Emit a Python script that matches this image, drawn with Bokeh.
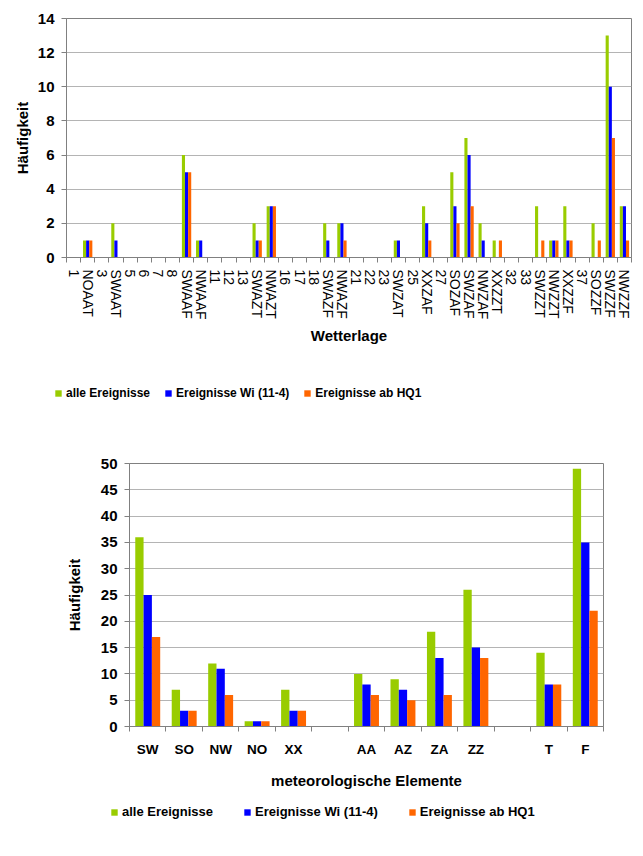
import math
from bokeh.plotting import figure
from bokeh.models import Range1d, FixedTicker, Legend, LegendItem, ColumnDataSource
from bokeh.embed import file_html
from bokeh.resources import INLINE

# ---- data: top chart (Wetterlage) ----
wl_labels = ["1", "NOAAT", "3", "SWAAT", "5", "6", "7", "8", "SWAAF", "NWAAF",
             "11", "12", "13", "SWAZT", "NWAZT", "16", "17", "18", "SWAZF", "NWAZF",
             "21", "22", "23", "SWZAT", "25", "XXZAF", "27", "SOZAF", "SWZAF", "NWZAF",
             "XXZZT", "32", "33", "SWZZT", "NWZZT", "XXZZF", "37", "SOZZF", "SWZZF", "NWZZF"]
wl_alle = [0, 1, 0, 2, 0, 0, 0, 0, 6, 1,
           0, 0, 0, 2, 3, 0, 0, 0, 2, 2,
           0, 0, 0, 1, 0, 3, 0, 5, 7, 2,
           1, 0, 0, 3, 1, 3, 0, 2, 13, 3]
wl_wi = [0, 1, 0, 1, 0, 0, 0, 0, 5, 1,
         0, 0, 0, 1, 3, 0, 0, 0, 1, 2,
         0, 0, 0, 1, 0, 2, 0, 3, 6, 1,
         0, 0, 0, 0, 1, 1, 0, 0, 10, 3]
wl_hq1 = [0, 1, 0, 0, 0, 0, 0, 0, 5, 0,
          0, 0, 0, 1, 3, 0, 0, 0, 0, 1,
          0, 0, 0, 0, 0, 1, 0, 2, 3, 0,
          1, 0, 0, 1, 1, 1, 0, 1, 7, 1]
wl_yticks = [0, 2, 4, 6, 8, 10, 12, 14]

# ---- data: bottom chart (meteorologische Elemente) ----
me_labels = ["SW", "SO", "NW", "NO", "XX", "", "AA", "AZ", "ZA", "ZZ", "", "T", "F"]
me_alle = [36, 7, 12, 1, 7, 0, 10, 9, 18, 26, 0, 14, 49]
me_wi = [25, 3, 11, 1, 3, 0, 8, 7, 13, 15, 0, 8, 35]
me_hq1 = [17, 3, 6, 1, 3, 0, 6, 5, 6, 13, 0, 8, 22]
me_yticks = [0, 5, 10, 15, 20, 25, 30, 35, 40, 45, 50]

series_names = ["alle Ereignisse", "Ereignisse Wi (11-4)", "Ereignisse ab HQ1"]
colors = ["#99CC00", "#0000FF", "#FF6600"]

FONT = "Liberation Sans"
AX = "#808080"


def build(labels, series, yticks, ymax, bw, size, mb, xlabel, xlab_size, xlab_style,
          xlab_orient, xlab_standoff, xtitle_standoff, ytick_size, ytitle_standoff):
    n = len(labels)
    p = figure(width=size[0], height=size[1],
               x_range=Range1d(-0.5, n - 0.5), y_range=Range1d(0, ymax),
               output_backend="svg", toolbar_location=None,
               min_border_left=mb[0], min_border_right=mb[1],
               min_border_top=mb[2], min_border_bottom=mb[3])
    idx = list(range(n))
    for k, (vals, col) in enumerate(zip(series, colors)):
        src = ColumnDataSource(dict(x=[i + (k - 1) * bw for i in idx], top=vals))
        p.vbar(x="x", top="top", width=bw, source=src, fill_color=col, line_color=None)

    p.xaxis.ticker = FixedTicker(ticks=idx, minor_ticks=[i - 0.5 for i in range(n + 1)])
    p.xaxis.major_label_overrides = {i: lab for i, lab in enumerate(labels)}
    p.xaxis.major_tick_out = 0
    p.xaxis.major_tick_in = 0
    p.xaxis.minor_tick_out = 5
    p.xaxis.minor_tick_in = 0
    p.xaxis.minor_tick_line_color = AX
    p.xaxis.axis_line_color = AX
    p.xaxis.major_label_orientation = xlab_orient
    p.xaxis.major_label_standoff = xlab_standoff
    p.xaxis.major_label_text_font = FONT
    p.xaxis.major_label_text_font_size = xlab_size
    p.xaxis.major_label_text_font_style = xlab_style
    p.xaxis.major_label_text_color = "black"
    p.xaxis.axis_label = xlabel
    p.xaxis.axis_label_text_font = FONT
    p.xaxis.axis_label_text_font_size = "15px"
    p.xaxis.axis_label_text_font_style = "bold"
    p.xaxis.axis_label_text_color = "black"
    p.xaxis.axis_label_standoff = xtitle_standoff

    p.yaxis.ticker = FixedTicker(ticks=yticks)
    p.yaxis.major_tick_out = 5
    p.yaxis.major_tick_in = 0
    p.yaxis.major_tick_line_color = AX
    p.yaxis.axis_line_color = AX
    p.yaxis.major_label_standoff = 7
    p.yaxis.major_label_text_font = FONT
    p.yaxis.major_label_text_font_size = ytick_size
    p.yaxis.major_label_text_font_style = "bold"
    p.yaxis.major_label_text_color = "black"
    p.yaxis.axis_label = "Häufigkeit"
    p.yaxis.axis_label_text_font = FONT
    p.yaxis.axis_label_text_font_size = "15px"
    p.yaxis.axis_label_text_font_style = "bold"
    p.yaxis.axis_label_text_color = "black"
    p.yaxis.axis_label_standoff = ytitle_standoff

    p.xgrid.visible = False
    p.ygrid.grid_line_color = "#b4b4b4"
    p.outline_line_color = AX
    p.background_fill_color = "white"
    p.border_fill_color = "white"
    return p


def legend_fig(size, loc, font_size, spacing):
    f = figure(width=size[0], height=size[1], output_backend="svg", toolbar_location=None,
               x_axis_location=None, y_axis_location=None,
               min_border_left=0, min_border_right=0, min_border_top=0, min_border_bottom=0,
               x_range=Range1d(0, 1), y_range=Range1d(0, 1))
    f.grid.visible = False
    f.outline_line_color = None
    # zero-height swatch carriers for the legend (draw nothing themselves)
    rs = [f.vbar(x=[0], top=[0], width=0.01, fill_color=c, line_color=None) for c in colors]
    leg = Legend(items=[LegendItem(label=nm, renderers=[r]) for nm, r in zip(series_names, rs)],
                 orientation="horizontal", location=loc,
                 glyph_width=8, glyph_height=8, label_standoff=4,
                 spacing=spacing, padding=0, margin=0,
                 label_height=14, border_line_color=None,
                 background_fill_alpha=0,
                 label_text_font=FONT, label_text_font_size=font_size,
                 label_text_font_style="bold", label_text_color="black")
    f.add_layout(leg, "center")
    return f


p1 = build(wl_labels, [wl_alle, wl_wi, wl_hq1], wl_yticks, 14, 0.22,
           (639, 349), (66, 8, 18, 92), "Wetterlage", "14px", "normal",
           -math.pi / 2, 7, 4, "15px", 4)
l1 = legend_fig((643, 80), (54, 29), "12px", 14)
p2 = build(me_labels, [me_alle, me_wi, me_hq1], me_yticks, 50, 0.228,
           (643, 365), (129, 40, 34, 68), "meteorologische Elemente", "13.5px", "bold",
           "horizontal", 10, 12, "15px", 15)
l2 = legend_fig((643, 50), (110, 25), "13px", 30)

open("out.html", "w").write(file_html([p1, l1, p2, l2], INLINE))
